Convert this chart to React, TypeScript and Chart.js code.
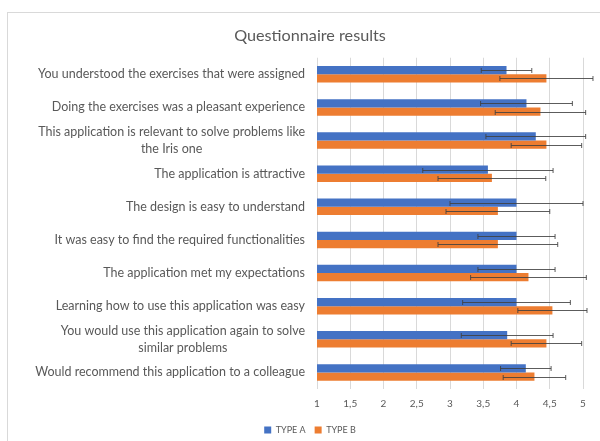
import React, { useEffect, useRef } from "react";
import { Chart, registerables } from "chart.js";

Chart.register(...registerables);

const categories: string[][] = [
  ["You understood the exercises that were assigned"],
  ["Doing the exercises was a pleasant experience"],
  ["This application is relevant to solve problems like", "the Iris one"],
  ["The application is attractive"],
  ["The design is easy to understand"],
  ["It was easy to find the required functionalities"],
  ["The application met my expectations"],
  ["Learning how to use this application was easy"],
  ["You would use this application again to solve", "similar problems"],
  ["Would recommend this application to a colleague"],
];

const typeA = [3.85, 4.15, 4.29, 3.57, 4.0, 4.0, 4.0, 4.0, 3.86, 4.14];
const typeB = [4.45, 4.36, 4.45, 3.63, 3.72, 3.72, 4.18, 4.54, 4.45, 4.27];
const errA = [0.38, 0.69, 0.75, 0.98, 1.0, 0.58, 0.58, 0.81, 0.69, 0.38];
const errB = [0.7, 0.68, 0.53, 0.81, 0.78, 0.9, 0.87, 0.52, 0.53, 0.47];
const tickLabels = ["1", "1,5", "2", "2,5", "3", "3,5", "4", "4,5", "5"];

const FONT = "Lato";
const TEXT = "#595959";
const LABEL_SIZE = 12.5;
const LABEL_LINE = 16.5;
const LABEL_RIGHT = 305;

const borderPlugin = {
  id: "frame",
  beforeDraw(chart: any) {
    const ctx = chart.ctx;
    ctx.save();
    ctx.fillStyle = "#ffffff";
    ctx.fillRect(0, 0, chart.width, chart.height);
    ctx.strokeStyle = "#d9d9d9";
    ctx.lineWidth = 1;
    ctx.strokeRect(7.5, 12.5, 800, 600);
    ctx.restore();
  },
};

const yLabelPlugin = {
  id: "yLabels",
  afterDraw(chart: any) {
    const ctx = chart.ctx;
    const y = chart.scales.y;
    ctx.save();
    ctx.font = `${LABEL_SIZE}px ${FONT}`;
    ctx.fillStyle = TEXT;
    ctx.textBaseline = "middle";
    ctx.textAlign = "center";
    categories.forEach((lines, i) => {
      const cy = y.getPixelForValue(i);
      const w = Math.max(...lines.map((l) => ctx.measureText(l).width));
      const cx = LABEL_RIGHT - w / 2;
      lines.forEach((l, j) => {
        ctx.fillText(l, cx, cy + (j - (lines.length - 1) / 2) * LABEL_LINE);
      });
    });
    ctx.restore();
  },
};

const errorBarPlugin = {
  id: "errorBars",
  afterDatasetsDraw(chart: any) {
    const ctx = chart.ctx;
    const x = chart.scales.x;
    const errs = [errA, errB];
    const vals = [typeA, typeB];
    ctx.save();
    ctx.strokeStyle = "rgba(64,64,64,0.85)";
    ctx.lineWidth = 1;
    chart.data.datasets.forEach((_: any, di: number) => {
      const meta = chart.getDatasetMeta(di);
      meta.data.forEach((bar: any, i: number) => {
        const v = vals[di][i];
        const e = errs[di][i];
        const x0 = x.getPixelForValue(v - e);
        const x1 = x.getPixelForValue(v + e);
        const yy = Math.round(bar.y) + 0.5;
        ctx.beginPath();
        ctx.moveTo(x0, yy);
        ctx.lineTo(x1, yy);
        ctx.moveTo(x0, yy - 2.5);
        ctx.lineTo(x0, yy + 2.5);
        ctx.moveTo(x1, yy - 2.5);
        ctx.lineTo(x1, yy + 2.5);
        ctx.stroke();
      });
    });
    ctx.restore();
  },
};

export default function App() {
  const ref = useRef<HTMLCanvasElement | null>(null);
  useEffect(() => {
    if (!ref.current) return;
    const chart = new Chart(ref.current, {
      type: "bar",
      data: {
        labels: categories as any,
        datasets: [
          {
            label: "TYPE A",
            data: typeA,
            backgroundColor: "#4472C4",
            borderWidth: 0,
            categoryPercentage: 0.5,
            barPercentage: 1,
          },
          {
            label: "TYPE B",
            data: typeB,
            backgroundColor: "#ED7D31",
            borderWidth: 0,
            categoryPercentage: 0.5,
            barPercentage: 1,
          },
        ],
      },
      options: {
        indexAxis: "y",
        responsive: false,
        animation: false,
        devicePixelRatio: 1,
        layout: { padding: { left: 37, right: 37, top: 0, bottom: 0.5 } },
        scales: {
          x: {
            min: 1,
            max: 5,
            grid: { color: "#d9d9d9", drawTicks: false },
            border: { display: false },
            ticks: {
              stepSize: 0.5,
              padding: 8.5,
              color: TEXT,
              font: { family: FONT, size: 10 },
              callback: (_v: any, i: number) => tickLabels[i],
            },
            afterFit: (s: any) => {
              s.height = 27.5;
            },
          },
          y: {
            grid: { display: false },
            border: { display: false },
            ticks: { display: false },
            afterFit: (s: any) => {
              s.width = 280;
            },
          },
        },
        plugins: {
          title: {
            display: true,
            text: "Questionnaire results",
            color: TEXT,
            font: { family: FONT, size: 16.2, weight: "normal" },
            padding: { top: 26.4, bottom: 11.9 },
          },
          legend: {
            position: "bottom",
            labels: {
              boxWidth: 7,
              boxHeight: 7,
              padding: 9,
              color: TEXT,
              font: { family: FONT, size: 9 },
            },
          },
          tooltip: { enabled: false },
        },
      },
      plugins: [borderPlugin, yLabelPlugin, errorBarPlugin],
    });
    return () => chart.destroy();
  }, []);
  return (
    <canvas
      ref={ref}
      width={620}
      height={445}
      style={{ position: "fixed", left: 0, top: 0, width: 620, height: 445 }}
    />
  );
}
